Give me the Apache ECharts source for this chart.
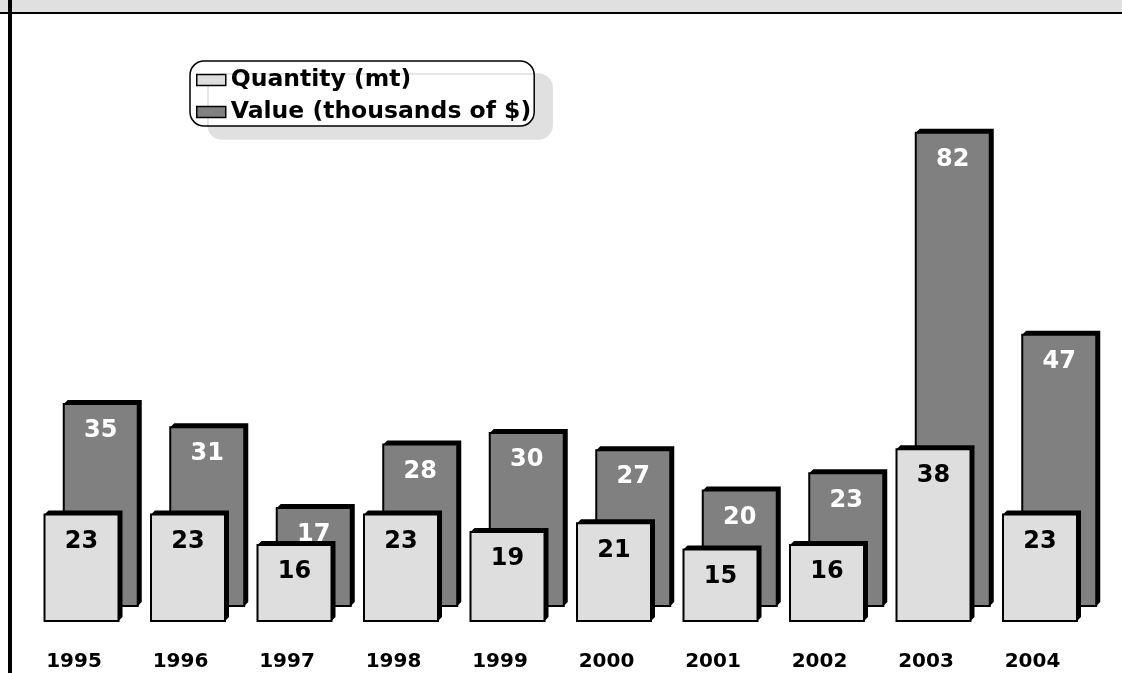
<!DOCTYPE html>
<html>
<head>
<meta charset="utf-8">
<script src="https://cdn.jsdelivr.net/npm/echarts@6/dist/echarts.min.js"></script>
<style>
  html, body { margin: 0; padding: 0; background: #fff; }
  #chart { width: 1122px; height: 673px; }
</style>
</head>
<body>
<div id="chart"></div>
<script>
const years = ['1995', '1996', '1997', '1998', '1999', '2000', '2001', '2002', '2003', '2004']
const quantity = [23, 23, 16, 23, 19, 21, 15, 16, 38, 23]
const value = [35, 31, 17, 28, 30, 27, 20, 23, 82, 47]

const font = 'DejaVu Sans'
const lightGray = '#dedede'
const darkGray = '#808080'

// bar drawn as a front face plus a black 3D edge (top and right side)
function bar3d(textColor) {
  return function (params, api) {
    const cs = params.coordSys
    const top = api.coord([api.value(0), api.value(1)])
    const bottom = cs.y + cs.height
    const w = 74, d = 4
    const x0 = top[0] - w / 2
    const y0 = top[1]
    return {
      type: 'group',
      children: [
        {
          type: 'polygon',
          shape: { points: [[x0, y0], [x0 + d, y0 - d], [x0 + w + d, y0 - d], [x0 + w + d, bottom - d], [x0 + w, bottom], [x0 + w, y0]] },
          style: { fill: '#000' }
        },
        {
          type: 'rect',
          shape: { x: x0, y: y0, width: w, height: bottom - y0 },
          style: { fill: api.visual('color'), stroke: '#000', lineWidth: 2 }
        },
        {
          type: 'text',
          x: top[0], y: y0 + 15,
          style: { text: String(api.value(1)), fill: textColor, font: 'bold 24px "DejaVu Sans"', align: 'center', verticalAlign: 'top' }
        }
      ]
    }
  }
}

const chart = echarts.init(document.getElementById('chart'), null, { renderer: 'canvas' })

chart.setOption({
  backgroundColor: '#fff',
  animation: false,
  graphic: [
    { type: 'rect', shape: { x: 0, y: 0, width: 1122, height: 12 }, style: { fill: '#e0e0e0' }, z: 100 },
    { type: 'rect', shape: { x: 0, y: 12, width: 1122, height: 2 }, style: { fill: '#000' }, z: 100 },
    { type: 'rect', shape: { x: 8, y: 0, width: 4, height: 673 }, style: { fill: '#000' }, z: 100 }
  ],
  legend: {
    orient: 'vertical',
    left: 190,
    top: 61,
    padding: [7, 3, 2, 6],
    itemGap: 8,
    icon: 'rect',
    itemWidth: 29,
    itemHeight: 11,
    itemStyle: { borderColor: '#000', borderWidth: 1.5 },
    textStyle: { fontFamily: font, fontWeight: 'bold', fontSize: 23.5, color: '#000' },
    backgroundColor: '#fff',
    borderColor: '#000',
    borderWidth: 1.5,
    borderRadius: 14,
    shadowColor: '#e0e0e0',
    shadowBlur: 0,
    shadowOffsetX: 18,
    shadowOffsetY: 13,
    data: ['Quantity (mt)', 'Value (thousands of $)']
  },
  grid: [
    { left: 28.25, right: 28.75, top: 179, bottom: 52 },
    { left: 47.5, right: 9.5, top: 29, bottom: 67 }
  ],
  xAxis: [
    {
      type: 'category', gridIndex: 0, data: years,
      axisLine: { show: false }, axisTick: { show: false },
      axisLabel: { margin: 31, fontFamily: font, fontWeight: 'bold', fontSize: 20, color: '#000', padding: [0, 15, 0, 0] }
    },
    { type: 'category', gridIndex: 1, data: years, show: false }
  ],
  yAxis: [
    { type: 'value', gridIndex: 0, min: -1.42, max: 100, show: false, splitLine: { show: false } },
    { type: 'value', gridIndex: 1, min: 0, max: 100, show: false, splitLine: { show: false } }
  ],
  series: [
    {
      name: 'Value (thousands of $)',
      type: 'custom',
      xAxisIndex: 1,
      yAxisIndex: 1,
      z: 2,
      itemStyle: { color: darkGray },
      encode: { x: 0, y: 1 },
      data: value.map((v, i) => [i, v]),
      renderItem: bar3d('#fff')
    },
    {
      name: 'Quantity (mt)',
      type: 'custom',
      xAxisIndex: 0,
      yAxisIndex: 0,
      z: 3,
      itemStyle: { color: lightGray },
      encode: { x: 0, y: 1 },
      data: quantity.map((v, i) => [i, v]),
      renderItem: bar3d('#000')
    }
  ]
})
</script>
</body>
</html>
